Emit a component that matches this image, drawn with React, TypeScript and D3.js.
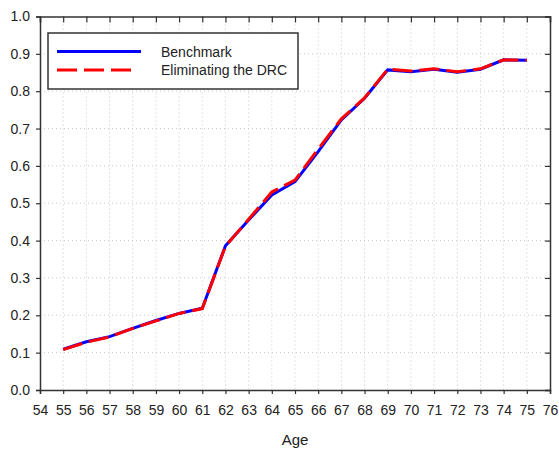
import { useEffect, useRef } from "react";
import * as d3 from "d3";

const ages = [55, 56, 57, 58, 59, 60, 61, 62, 63, 64, 65, 66, 67, 68, 69, 70, 71, 72, 73, 74, 75];
const benchmark = [0.109, 0.129, 0.143, 0.165, 0.186, 0.205, 0.219, 0.386, 0.455, 0.522, 0.558, 0.638, 0.723, 0.781, 0.857, 0.852, 0.859, 0.851, 0.859, 0.884, 0.883];
const noDrc = [0.108, 0.128, 0.142, 0.165, 0.185, 0.205, 0.218, 0.385, 0.457, 0.530, 0.562, 0.645, 0.726, 0.782, 0.859, 0.854, 0.860, 0.852, 0.860, 0.884, 0.883];
const xTicks = d3.range(54, 77);
const yTicks = [0, 0.1, 0.2, 0.3, 0.4, 0.5, 0.6, 0.7, 0.8, 0.9, 1.0];
const seriesNames = ["Benchmark", "Eliminating the DRC"];

const FONT = "'Liberation Sans', Arial, sans-serif";
const AXIS = "#333333";

export default function App() {
  const svgRef = useRef<SVGSVGElement>(null);

  useEffect(() => {
    if (!svgRef.current) return;
    const svg = d3.select(svgRef.current);
    svg.selectAll("*").remove();

    const width = 559;
    const height = 449;
    const margin = { top: 16.5, right: 9, bottom: 59, left: 40 };
    const w = width - margin.left - margin.right;
    const h = height - margin.top - margin.bottom;

    const g = svg.append("g").attr("transform", `translate(${margin.left},${margin.top})`);

    const x = d3.scaleLinear().domain([54, 76]).range([0, w]);
    const y = d3.scaleLinear().domain([0, 1]).range([h, 0]);

    // grid
    g.selectAll(".vgrid")
      .data(xTicks.slice(1, -1))
      .join("line")
      .attr("x1", (d) => x(d))
      .attr("x2", (d) => x(d))
      .attr("y1", 0)
      .attr("y2", h)
      .attr("stroke", "#c8c8c8")
      .attr("stroke-width", 1)
      .attr("stroke-dasharray", "1,3");
    g.selectAll(".hgrid")
      .data(yTicks.slice(1, -1))
      .join("line")
      .attr("x1", 0)
      .attr("x2", w)
      .attr("y1", (d) => y(d))
      .attr("y2", (d) => y(d))
      .attr("stroke", "#c8c8c8")
      .attr("stroke-width", 1)
      .attr("stroke-dasharray", "1,3");

    // bottom axis (outward ticks)
    const bottom = g
      .append("g")
      .attr("transform", `translate(0,${h})`)
      .call(d3.axisBottom(x).tickValues(xTicks).tickFormat(d3.format("d")).tickSize(4).tickPadding(11));
    // left axis
    const left = g
      .append("g")
      .call(d3.axisLeft(y).tickValues(yTicks).tickFormat(d3.format(".1f")).tickSize(4).tickPadding(6));
    // top axis (inward ticks)
    const top = g
      .append("g")
      .call(d3.axisTop(x).tickValues(xTicks).tickFormat(() => "").tickSize(-6));
    // right axis (inward ticks)
    const right = g
      .append("g")
      .attr("transform", `translate(${w},0)`)
      .call(d3.axisRight(y).tickValues(yTicks).tickFormat(() => "").tickSize(-5));

    [bottom, left, top, right].forEach((ax) => {
      ax.select(".domain").attr("stroke", AXIS).attr("stroke-width", 1.5);
      ax.selectAll(".tick line").attr("stroke", AXIS).attr("stroke-width", 1.2);
      ax.selectAll(".tick text")
        .attr("fill", "#222")
        .style("font-family", FONT)
        .style("font-size", "14px");
    });

    // x label
    g.append("text")
      .attr("x", w / 2)
      .attr("y", h + 55)
      .attr("text-anchor", "middle")
      .attr("fill", "#222")
      .style("font-family", FONT)
      .style("font-size", "15px")
      .text("Age");

    const line = d3
      .line<number>()
      .x((_, i) => x(ages[i]))
      .y((d) => y(d));

    g.append("path")
      .datum(benchmark)
      .attr("d", line)
      .attr("fill", "none")
      .attr("stroke", "#0000ff")
      .attr("stroke-width", 3);

    g.append("path")
      .datum(noDrc)
      .attr("d", line)
      .attr("fill", "none")
      .attr("stroke", "#ff0000")
      .attr("stroke-width", 3)
      .attr("stroke-dasharray", "20,7");

    // legend
    const legend = svg.append("g").attr("transform", "translate(48,33)");
    legend
      .append("rect")
      .attr("width", 250)
      .attr("height", 56)
      .attr("fill", "white")
      .attr("stroke", AXIS)
      .attr("stroke-width", 1.5);
    const colors = ["#0000ff", "#ff0000"];
    seriesNames.forEach((name, i) => {
      const ly = 18.5 + i * 18.5;
      legend
        .append("line")
        .attr("x1", 9)
        .attr("x2", i === 0 ? 93 : 84)
        .attr("y1", ly)
        .attr("y2", ly)
        .attr("stroke", colors[i])
        .attr("stroke-width", 3)
        .attr("stroke-dasharray", i === 0 ? null : "20,7");
      legend
        .append("text")
        .attr("x", 113)
        .attr("y", ly + 5)
        .attr("fill", "#222")
        .style("font-family", FONT)
        .style("font-size", "14px")
        .text(name);
    });
  }, []);

  return (
    <svg
      ref={svgRef}
      width={559}
      height={449}
      style={{ position: "absolute", left: 0, top: 0, background: "white" }}
    />
  );
}
